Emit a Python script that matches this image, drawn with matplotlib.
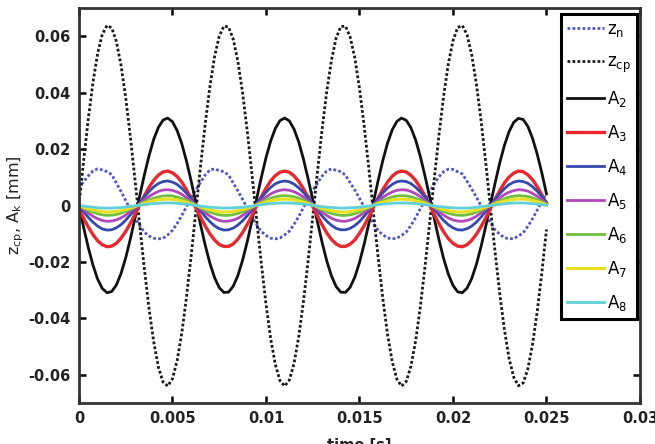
import matplotlib
matplotlib.use("Agg")
import matplotlib.pyplot as plt

# time axis [s], one sample every 0.25 ms
time_s = [i * 0.00025 for i in range(101)]

z_n = [0.0060, 0.0085, 0.0105, 0.0122, 0.0130, 0.0126, 0.0120, 0.0110, 0.0080, 0.0050,
       0.0018, -0.0014, -0.0044, -0.0071, -0.0095, -0.0108, -0.0116, -0.0118, -0.0116, -0.0104,
       -0.0088, -0.0064, -0.0035, -0.0004, 0.0027, 0.0056, 0.0082, 0.0108, 0.0126, 0.0130,
       0.0124, 0.0120, 0.0108, 0.0080, 0.0052, 0.0022, -0.0009, -0.0040, -0.0068, -0.0092,
       -0.0106, -0.0116, -0.0118, -0.0115, -0.0104, -0.0091, -0.0067, -0.0039, -0.0008, 0.0023,
       0.0053, 0.0079, 0.0104, 0.0122, 0.0130, 0.0125, 0.0120, 0.0108, 0.0081, 0.0055,
       0.0026, -0.0005, -0.0036, -0.0064, -0.0089, -0.0104, -0.0115, -0.0118, -0.0116, -0.0106,
       -0.0094, -0.0071, -0.0043, -0.0012, 0.0019, 0.0049, 0.0076, 0.0102, 0.0120, 0.0129,
       0.0128, 0.0120, 0.0112, 0.0086, 0.0059, 0.0030, -0.0001, -0.0032, -0.0061, -0.0086,
       -0.0102, -0.0114, -0.0118, -0.0117, -0.0108, -0.0097, -0.0074, -0.0047, -0.0017, 0.0015,
       0.0045]

z_cp = [0.0, 0.0158, 0.0307, 0.0436, 0.0539, 0.0607, 0.0638, 0.0630, 0.0582, 0.0498,
        0.0383, 0.0244, 0.0090, -0.0069, -0.0225, -0.0366, -0.0484, -0.0573, -0.0626, -0.0640,
        -0.0614, -0.0550, -0.0452, -0.0325, -0.0179, -0.0021, 0.0138, 0.0288, 0.0420, 0.0527,
        0.0600, 0.0636, 0.0633, 0.0590, 0.0511, 0.0400, 0.0264, 0.0112, -0.0048, -0.0204,
        -0.0348, -0.0471, -0.0563, -0.0621, -0.0640, -0.0619, -0.0560, -0.0466, -0.0343, -0.0199,
        -0.0042, 0.0117, 0.0269, 0.0404, 0.0514, 0.0593, 0.0634, 0.0636, 0.0598, 0.0524,
        0.0416, 0.0283, 0.0132, -0.0027, -0.0184, -0.0330, -0.0456, -0.0553, -0.0615, -0.0640,
        -0.0624, -0.0570, -0.0481, -0.0361, -0.0219, -0.0064, 0.0096, 0.0249, 0.0388, 0.0502,
        0.0584, 0.0631, 0.0638, 0.0606, 0.0535, 0.0432, 0.0302, 0.0153, -0.0006, -0.0164,
        -0.0312, -0.0440, -0.0542, -0.0609, -0.0639, -0.0629, -0.0580, -0.0494, -0.0378, -0.0239,
        -0.0085]

A_2 = [0.0, -0.0077, -0.0149, -0.0211, -0.0261, -0.0294, -0.0309, -0.0305, -0.0282, -0.0241,
       -0.0186, -0.0118, -0.0044, 0.0034, 0.0109, 0.0177, 0.0235, 0.0277, 0.0303, 0.0310,
       0.0297, 0.0266, 0.0219, 0.0158, 0.0087, 0.0010, -0.0067, -0.0140, -0.0204, -0.0255,
       -0.0291, -0.0308, -0.0307, -0.0286, -0.0248, -0.0194, -0.0128, -0.0054, 0.0023, 0.0099,
       0.0169, 0.0228, 0.0273, 0.0301, 0.0310, 0.0300, 0.0271, 0.0226, 0.0166, 0.0096,
       0.0021, -0.0057, -0.0130, -0.0196, -0.0249, -0.0287, -0.0307, -0.0308, -0.0290, -0.0254,
       -0.0202, -0.0137, -0.0064, 0.0013, 0.0089, 0.0160, 0.0221, 0.0268, 0.0298, 0.0310,
       0.0302, 0.0276, 0.0233, 0.0175, 0.0106, 0.0031, -0.0046, -0.0121, -0.0188, -0.0243,
       -0.0283, -0.0306, -0.0309, -0.0293, -0.0259, -0.0209, -0.0146, -0.0074, 0.0003, 0.0079,
       0.0151, 0.0213, 0.0262, 0.0295, 0.0309, 0.0305, 0.0281, 0.0239, 0.0183, 0.0116,
       0.0041]

A_3 = [-0.0012, -0.0045, -0.0076, -0.0103, -0.0125, -0.0139, -0.0146, -0.0144, -0.0134, -0.0116,
       -0.0092, -0.0063, -0.0031, 0.0002, 0.0035, 0.0065, 0.0089, 0.0108, 0.0119, 0.0122,
       0.0116, 0.0103, 0.0083, 0.0056, 0.0025, -0.0008, -0.0041, -0.0072, -0.0100, -0.0122,
       -0.0138, -0.0145, -0.0145, -0.0136, -0.0119, -0.0096, -0.0067, -0.0035, -0.0002, 0.0031,
       0.0061, 0.0087, 0.0106, 0.0118, 0.0122, 0.0118, 0.0105, 0.0086, 0.0060, 0.0030,
       -0.0003, -0.0036, -0.0068, -0.0097, -0.0120, -0.0136, -0.0145, -0.0145, -0.0137, -0.0122,
       -0.0099, -0.0071, -0.0040, -0.0006, 0.0027, 0.0057, 0.0083, 0.0104, 0.0117, 0.0122,
       0.0119, 0.0107, 0.0089, 0.0064, 0.0034, 0.0001, -0.0032, -0.0064, -0.0093, -0.0117,
       -0.0134, -0.0144, -0.0146, -0.0139, -0.0124, -0.0102, -0.0075, -0.0044, -0.0011, 0.0022,
       0.0053, 0.0080, 0.0101, 0.0115, 0.0122, 0.0120, 0.0109, 0.0092, 0.0067, 0.0038,
       0.0006]

A_4 = [0.0, -0.0022, -0.0042, -0.0059, -0.0073, -0.0083, -0.0087, -0.0086, -0.0079, -0.0068,
       -0.0052, -0.0033, -0.0012, 0.0009, 0.0031, 0.0050, 0.0066, 0.0078, 0.0085, 0.0087,
       0.0083, 0.0075, 0.0061, 0.0044, 0.0024, 0.0003, -0.0019, -0.0039, -0.0057, -0.0072,
       -0.0082, -0.0087, -0.0086, -0.0080, -0.0069, -0.0054, -0.0036, -0.0015, 0.0007, 0.0028,
       0.0047, 0.0064, 0.0077, 0.0084, 0.0087, 0.0084, 0.0076, 0.0063, 0.0047, 0.0027,
       0.0006, -0.0016, -0.0037, -0.0055, -0.0070, -0.0081, -0.0086, -0.0086, -0.0081, -0.0071,
       -0.0057, -0.0038, -0.0018, 0.0004, 0.0025, 0.0045, 0.0062, 0.0075, 0.0084, 0.0087,
       0.0085, 0.0078, 0.0065, 0.0049, 0.0030, 0.0009, -0.0013, -0.0034, -0.0053, -0.0068,
       -0.0079, -0.0086, -0.0087, -0.0082, -0.0073, -0.0059, -0.0041, -0.0021, 0.0001, 0.0022,
       0.0042, 0.0060, 0.0074, 0.0083, 0.0087, 0.0085, 0.0079, 0.0067, 0.0051, 0.0032,
       0.0012]

A_5 = [0.0, -0.0014, -0.0027, -0.0038, -0.0047, -0.0053, -0.0056, -0.0055, -0.0051, -0.0044,
       -0.0034, -0.0021, -0.0008, 0.0006, 0.0020, 0.0032, 0.0042, 0.0050, 0.0055, 0.0056,
       0.0054, 0.0048, 0.0040, 0.0028, 0.0016, 0.0002, -0.0012, -0.0025, -0.0037, -0.0046,
       -0.0053, -0.0056, -0.0055, -0.0052, -0.0045, -0.0035, -0.0023, -0.0010, 0.0004, 0.0018,
       0.0030, 0.0041, 0.0049, 0.0054, 0.0056, 0.0054, 0.0049, 0.0041, 0.0030, 0.0017,
       0.0004, -0.0010, -0.0024, -0.0035, -0.0045, -0.0052, -0.0055, -0.0056, -0.0052, -0.0046,
       -0.0036, -0.0025, -0.0012, 0.0002, 0.0016, 0.0029, 0.0040, 0.0048, 0.0054, 0.0056,
       0.0055, 0.0050, 0.0042, 0.0032, 0.0019, 0.0006, -0.0008, -0.0022, -0.0034, -0.0044,
       -0.0051, -0.0055, -0.0056, -0.0053, -0.0047, -0.0038, -0.0026, -0.0013, 0.0000, 0.0014,
       0.0027, 0.0039, 0.0047, 0.0053, 0.0056, 0.0055, 0.0051, 0.0043, 0.0033, 0.0021,
       0.0007]

A_6 = [0.0, -0.0009, -0.0017, -0.0024, -0.0029, -0.0033, -0.0035, -0.0034, -0.0032, -0.0027,
       -0.0021, -0.0013, -0.0005, 0.0004, 0.0012, 0.0020, 0.0026, 0.0031, 0.0034, 0.0035,
       0.0034, 0.0030, 0.0025, 0.0018, 0.0010, 0.0001, -0.0008, -0.0016, -0.0023, -0.0029,
       -0.0033, -0.0035, -0.0035, -0.0032, -0.0028, -0.0022, -0.0014, -0.0006, 0.0003, 0.0011,
       0.0019, 0.0026, 0.0031, 0.0034, 0.0035, 0.0034, 0.0031, 0.0026, 0.0019, 0.0011,
       0.0002, -0.0006, -0.0015, -0.0022, -0.0028, -0.0032, -0.0035, -0.0035, -0.0033, -0.0029,
       -0.0023, -0.0015, -0.0007, 0.0001, 0.0010, 0.0018, 0.0025, 0.0030, 0.0034, 0.0035,
       0.0034, 0.0031, 0.0026, 0.0020, 0.0012, 0.0003, -0.0005, -0.0014, -0.0021, -0.0027,
       -0.0032, -0.0034, -0.0035, -0.0033, -0.0029, -0.0024, -0.0017, -0.0008, 0.0000, 0.0009,
       0.0017, 0.0024, 0.0030, 0.0033, 0.0035, 0.0034, 0.0032, 0.0027, 0.0021, 0.0013,
       0.0005]

A_7 = [0.0, -0.0006, -0.0011, -0.0016, -0.0019, -0.0022, -0.0023, -0.0023, -0.0021, -0.0018,
       -0.0014, -0.0009, -0.0003, 0.0002, 0.0008, 0.0013, 0.0017, 0.0021, 0.0022, 0.0023,
       0.0022, 0.0020, 0.0016, 0.0012, 0.0006, 0.0001, -0.0005, -0.0010, -0.0015, -0.0019,
       -0.0022, -0.0023, -0.0023, -0.0021, -0.0018, -0.0014, -0.0009, -0.0004, 0.0002, 0.0007,
       0.0013, 0.0017, 0.0020, 0.0022, 0.0023, 0.0022, 0.0020, 0.0017, 0.0012, 0.0007,
       0.0002, -0.0004, -0.0010, -0.0015, -0.0018, -0.0021, -0.0023, -0.0023, -0.0022, -0.0019,
       -0.0015, -0.0010, -0.0005, 0.0001, 0.0007, 0.0012, 0.0016, 0.0020, 0.0022, 0.0023,
       0.0022, 0.0020, 0.0017, 0.0013, 0.0008, 0.0002, -0.0003, -0.0009, -0.0014, -0.0018,
       -0.0021, -0.0023, -0.0023, -0.0022, -0.0019, -0.0016, -0.0011, -0.0005, 0.0000, 0.0006,
       0.0011, 0.0016, 0.0019, 0.0022, 0.0023, 0.0023, 0.0021, 0.0018, 0.0014, 0.0009,
       0.0003]

A_8 = [0.0, -0.0002, -0.0004, -0.0006, -0.0008, -0.0009, -0.0009, -0.0009, -0.0008, -0.0007,
       -0.0005, -0.0003, -0.0001, 0.0001, 0.0003, 0.0005, 0.0007, 0.0008, 0.0009, 0.0009,
       0.0009, 0.0008, 0.0006, 0.0005, 0.0003, 0.0000, -0.0002, -0.0004, -0.0006, -0.0007,
       -0.0008, -0.0009, -0.0009, -0.0008, -0.0007, -0.0006, -0.0004, -0.0002, 0.0001, 0.0003,
       0.0005, 0.0007, 0.0008, 0.0009, 0.0009, 0.0009, 0.0008, 0.0007, 0.0005, 0.0003,
       0.0001, -0.0002, -0.0004, -0.0006, -0.0007, -0.0008, -0.0009, -0.0009, -0.0008, -0.0007,
       -0.0006, -0.0004, -0.0002, 0.0000, 0.0003, 0.0005, 0.0006, 0.0008, 0.0009, 0.0009,
       0.0009, 0.0008, 0.0007, 0.0005, 0.0003, 0.0001, -0.0001, -0.0004, -0.0005, -0.0007,
       -0.0008, -0.0009, -0.0009, -0.0009, -0.0008, -0.0006, -0.0004, -0.0002, 0.0000, 0.0002,
       0.0004, 0.0006, 0.0008, 0.0009, 0.0009, 0.0009, 0.0008, 0.0007, 0.0005, 0.0003,
       0.0001]

x_ticks = [0, 0.005, 0.01, 0.015, 0.02, 0.025, 0.03]
x_tick_labels = ["0", "0.005", "0.01", "0.015", "0.02", "0.025", "0.03"]
y_ticks = [-0.06, -0.04, -0.02, 0, 0.02, 0.04, 0.06]
y_tick_labels = ["-0.06", "-0.04", "-0.02", "0", "0.02", "0.04", "0.06"]

fig = plt.figure(figsize=(6.55, 4.44), dpi=100)
ax = fig.add_axes([0.1205, 0.0923, 0.8566, 0.8896])

dots = (0, (1, 0.8))
ax.plot(time_s, z_n, color="#5058c0", lw=2.0, ls=dots, label=r"$\mathregular{z_n}$")
ax.plot(time_s, z_cp, color="#1a1a1a", lw=2.0, ls=dots, label=r"$\mathregular{z_{cp}}$")
ax.plot(time_s, A_2, color="#111111", lw=2.0, label=r"$\mathregular{A_2}$")
ax.plot(time_s, A_3, color="#e8282e", lw=2.4, label=r"$\mathregular{A_3}$")
ax.plot(time_s, A_4, color="#3448b0", lw=2.0, label=r"$\mathregular{A_4}$")
ax.plot(time_s, A_5, color="#b048b8", lw=2.0, label=r"$\mathregular{A_5}$")
ax.plot(time_s, A_6, color="#70c040", lw=2.0, label=r"$\mathregular{A_6}$")
ax.plot(time_s, A_7, color="#e8e020", lw=2.2, label=r"$\mathregular{A_7}$")
ax.plot(time_s, A_8, color="#60d0d8", lw=2.0, label=r"$\mathregular{A_8}$")

ax.set_xlim(0, 0.03)
ax.set_ylim(-0.07, 0.07)
ax.set_xticks(x_ticks)
ax.set_xticklabels(x_tick_labels, fontsize=10.5, fontweight="bold", color="#222222")
ax.set_yticks(y_ticks)
ax.set_yticklabels(y_tick_labels, fontsize=10.5, fontweight="bold", color="#222222")
ax.tick_params(direction="in", length=5, width=1.8, top=True, right=True, pad=6)

for sp in ax.spines.values():
    sp.set_linewidth(2.0)
    sp.set_color("#333333")

ax.set_xlabel("time [s]", fontsize=10.5, fontweight="bold", color="#222222")
ax.xaxis.set_label_coords(0.5, -0.088)
ax.set_ylabel(r"$\mathregular{z_{cp}}$, $\mathregular{A_k}$ [mm]", fontsize=11.5, color="#222222")
ax.yaxis.set_label_coords(-0.094, 0.5)

leg = ax.legend(loc="upper right", bbox_to_anchor=(0.995, 0.985), fontsize=12,
                handlelength=2.2, handletextpad=0.2, labelspacing=0.84,
                borderpad=0.35, borderaxespad=0, fancybox=False, framealpha=1)
leg.get_frame().set_edgecolor("black")
leg.get_frame().set_linewidth(2.2)

fig.savefig("out.png", dpi=100)
